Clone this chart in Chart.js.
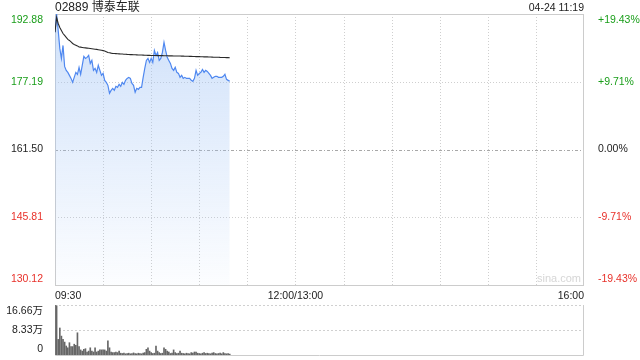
<!DOCTYPE html>
<html><head><meta charset="utf-8">
<script src="https://cdn.jsdelivr.net/npm/chart.js@4/dist/chart.umd.min.js"></script>
<style>
html,body{margin:0;padding:0;background:#fff;width:640px;height:360px;overflow:hidden;}
#wrap{position:relative;width:640px;height:360px;font-family:"Liberation Sans",Arial,"Noto Sans CJK SC",sans-serif;}
canvas{position:absolute;left:0;}
#title{position:absolute;left:55px;top:0;font-size:12px;color:#222;line-height:14px;white-space:nowrap;}
#time{position:absolute;right:56px;top:0;font-size:10.5px;color:#222;line-height:14px;white-space:nowrap;}
#wm{position:absolute;right:59px;top:271px;font-size:11px;color:#d6d6d6;line-height:14px;}
</style></head>
<body><div id="wrap">
<canvas id="main" width="640" height="302" style="top:0"></canvas>
<canvas id="vol" width="640" height="60" style="top:300px"></canvas>
<div id="title">02889 博泰车联</div>
<div id="time">04-24 11:19</div>
<div id="wm">sina.com</div>
</div>
<script>
// ---- data ----
const stockName = '02889 博泰车联';
const timeTickValues = [0, 150, 330];
const timeTicks = ['09:30', '12:00/13:00', '16:00'];
const priceTicks = [130.12, 145.81, 161.50, 177.19, 192.88];
const priceTickLabels = ['130.12', '145.81', '161.50', '177.19', '192.88'];
const pctTicks = ['-19.43%', '-9.71%', '0.00%', '+9.71%', '+19.43%'];
const volTickValues = [0, 8.33, 16.66];
const volTicks = ['0', '8.33万', '16.66万'];

const price = [188.67,192.88,189.07,184.91,182.60,185.60,180.75,179.82,179.36,178.67,
177.97,177.05,178.21,179.36,178.90,180.52,178.90,180.98,183.06,182.60,
182.83,183.29,181.44,182.13,179.82,180.29,179.36,180.98,179.82,178.67,
179.13,177.51,177.05,176.36,174.51,175.20,175.66,175.20,176.13,175.89,
176.59,176.13,177.05,176.59,177.51,177.97,178.21,177.97,176.82,176.36,
174.74,175.66,175.43,175.89,175.89,178.21,180.29,182.13,182.60,181.67,
182.60,181.67,184.44,183.29,183.98,182.13,182.60,183.98,186.29,184.44,
182.83,182.13,181.44,180.29,179.82,180.52,179.36,179.13,178.21,178.67,
177.97,178.21,177.97,177.97,177.97,177.51,177.28,177.97,179.82,178.67,
179.13,179.36,180.05,179.36,179.82,179.59,179.13,178.67,177.97,178.21,
178.44,178.44,178.21,178.21,178.21,178.44,178.90,177.74,177.51,177.28];

const avgPrice = [188.67,192.07,190.68,189.76,189.07,188.37,187.91,187.45,186.99,186.76,
186.41,186.06,185.83,185.66,185.49,185.25,185.20,185.14,185.08,185.03,
184.98,184.93,184.88,184.83,184.78,184.73,184.68,184.61,184.54,184.47,
184.40,184.33,184.15,183.98,183.90,183.82,183.75,183.72,183.70,183.67,
183.65,183.62,183.60,183.57,183.55,183.52,183.50,183.48,183.47,183.45,
183.43,183.42,183.40,183.38,183.37,183.35,183.33,183.32,183.30,183.29,
183.28,183.27,183.27,183.26,183.25,183.24,183.23,183.23,183.22,183.21,
183.20,183.19,183.19,183.18,183.17,183.16,183.15,183.15,183.14,183.13,
183.13,183.11,183.10,183.09,183.07,183.06,183.05,183.04,183.02,183.01,
183.00,182.99,182.97,182.96,182.95,182.94,182.92,182.91,182.90,182.88,
182.87,182.86,182.85,182.83,182.82,182.81,182.80,182.78,182.77,182.76];

// volume in 万 shares
const volume = [16.6,16.4,5.2,9.0,6.3,5.2,4.3,3.0,2.4,4.1,
2.8,2.8,3.6,3.2,7.4,2.8,1.7,1.3,1.9,2.1,
1.0,1.3,2.4,1.3,1.0,2.4,1.0,1.3,1.7,1.7,
1.7,1.7,1.3,4.7,2.4,1.0,0.8,0.8,1.0,0.8,
1.3,0.6,0.5,0.6,0.4,0.5,0.6,0.4,0.5,0.7,
0.5,0.4,0.6,0.5,0.4,0.6,0.8,1.9,2.4,1.3,
0.8,0.5,0.6,3.0,1.3,0.8,0.5,0.6,2.4,1.9,
1.3,1.0,0.5,0.6,1.7,0.8,0.5,0.6,1.3,0.6,
0.5,0.4,0.6,0.5,0.4,0.8,0.6,1.0,1.0,0.6,
0.5,0.4,0.6,0.8,0.5,0.6,0.5,0.4,0.6,0.8,
0.5,0.4,0.5,0.6,0.4,0.8,0.5,0.4,0.5,0.3];

// ---- style ----
const GREEN = '#1a9e1a', RED = '#e8312a', DARK = '#222';
const priceColors = [RED, RED, DARK, GREEN, GREEN];
const FONT = '"Liberation Sans", Arial, "Noto Sans CJK SC", sans-serif';
Chart.defaults.font.family = FONT;
Chart.defaults.font.size = 10.5;

function edgeLabel(lbl, i, n) {
  if (i === n - 1) return ['', lbl];
  if (i === 0) return [lbl, ''];
  return lbl;
}
function noPad(ax) { ax.paddingTop = 0; ax.paddingBottom = 0; ax.paddingLeft = 0; ax.paddingRight = 0; }
function hline(ctx, x1, x2, y) { ctx.beginPath(); ctx.moveTo(x1, y); ctx.lineTo(x2, y); ctx.stroke(); }
function vline(ctx, x, y1, y2) { ctx.beginPath(); ctx.moveTo(x, y1); ctx.lineTo(x, y2); ctx.stroke(); }

const mainGrid = {
  id: 'mainGrid',
  beforeDatasetsDraw(chart) {
    const {ctx, chartArea: a, scales} = chart;
    ctx.save();
    ctx.lineWidth = 1;
    ctx.strokeStyle = '#cfcfcf';
    ctx.setLineDash([1, 2]);
    for (let m = 30; m < 330; m += 30) {
      const x = Math.round(scales.x.getPixelForValue(m)) + 0.5;
      vline(ctx, x, a.top, a.bottom);
    }
    [priceTicks[1], priceTicks[3]].forEach(v => {
      const y = Math.round(scales.y.getPixelForValue(v)) + 0.5;
      hline(ctx, a.left, a.right, y);
    });
    ctx.strokeStyle = '#a8a8a8';
    ctx.setLineDash([3, 2, 1, 2]);
    hline(ctx, a.left, a.right, Math.round(scales.y.getPixelForValue(priceTicks[2])) + 0.5);
    ctx.setLineDash([]);
    ctx.strokeStyle = '#cccccc';
    ctx.strokeRect(Math.round(a.left) + 0.5, Math.round(a.top) + 0.5, Math.round(a.right - a.left) - 1, Math.round(a.bottom - a.top));
    ctx.restore();
  }
};

const volGrid = {
  id: 'volGrid',
  beforeDatasetsDraw(chart) {
    const {ctx, chartArea: a, scales} = chart;
    ctx.save();
    ctx.lineWidth = 1;
    ctx.strokeStyle = '#d0d0d0';
    ctx.setLineDash([2, 2]);
    [volTickValues[1], volTickValues[2]].forEach(v => {
      const y = Math.round(scales.y.getPixelForValue(v)) + 0.5;
      hline(ctx, a.left, a.right, y);
    });
    ctx.setLineDash([]);
    ctx.strokeStyle = '#cccccc';
    const l = Math.round(a.left) + 0.5, r = Math.round(a.right) - 0.5, b = Math.round(a.bottom) + 0.5, t = Math.round(a.top);
    vline(ctx, l, t, b); vline(ctx, r, t, b); hline(ctx, l, r, b);
    ctx.restore();
  }
};

const minuteIdx = price.map((_, i) => i);

new Chart(document.getElementById('main'), {
  type: 'line',
  data: {
    datasets: [
      {
        data: minuteIdx.map(i => ({x: i, y: avgPrice[i]})),
        borderColor: '#2a2a2a', borderWidth: 1.1, pointRadius: 0, fill: false, tension: 0
      },
      {
        data: minuteIdx.map(i => ({x: i, y: price[i]})),
        borderColor: '#4f88f0', borderWidth: 1.2, pointRadius: 0, tension: 0,
        fill: 'start',
        backgroundColor: (c) => {
          const ch = c.chart; const a = ch.chartArea;
          if (!a) return 'rgba(160,195,245,0.3)';
          const g = ch.ctx.createLinearGradient(0, a.top, 0, a.bottom);
          g.addColorStop(0, 'rgba(160,195,245,0.5)');
          g.addColorStop(1, 'rgba(160,195,245,0.03)');
          return g;
        }
      }
    ]
  },
  options: {
    responsive: false, animation: false, devicePixelRatio: 1,
    layout: {padding: {top: 14, left: 0, right: 0, bottom: 0}},
    plugins: {legend: {display: false}, tooltip: {enabled: false}},
    scales: {
      x: {
        type: 'linear', min: 0, max: 330, position: 'bottom',
        grid: {display: false}, border: {display: false},
        afterBuildTicks: ax => { ax.ticks = timeTickValues.map(v => ({value: v})); },
        afterFit: ax => { ax.height = 17; noPad(ax); },
        ticks: {autoSkip: false, maxRotation: 0, align: 'inner', padding: -3, color: DARK,
                callback: (v, i) => timeTicks[i]}
      },
      y: {
        position: 'left', min: priceTicks[0], max: priceTicks[4],
        grid: {display: false}, border: {display: false},
        afterBuildTicks: ax => { ax.ticks = priceTicks.map(v => ({value: v})); },
        afterFit: ax => { ax.width = 55; noPad(ax); },
        ticks: {autoSkip: false, padding: 4, color: c => priceColors[c.index],
                callback: (v, i) => edgeLabel(priceTickLabels[i], i, priceTicks.length)}
      },
      y2: {
        position: 'right', min: priceTicks[0], max: priceTicks[4],
        grid: {display: false}, border: {display: false},
        afterBuildTicks: ax => { ax.ticks = priceTicks.map(v => ({value: v})); },
        afterFit: ax => { ax.width = 56; noPad(ax); },
        ticks: {autoSkip: false, padding: 6, color: c => priceColors[c.index],
                callback: (v, i) => edgeLabel(pctTicks[i], i, pctTicks.length)}
      }
    }
  },
  plugins: [mainGrid]
});

new Chart(document.getElementById('vol'), {
  type: 'bar',
  data: {
    datasets: [{
      data: minuteIdx.map(i => ({x: i, y: volume[i]})),
      backgroundColor: '#666666', borderWidth: 0, barThickness: 1
    }]
  },
  options: {
    responsive: false, animation: false, devicePixelRatio: 1,
    layout: {padding: {top: 5, bottom: 5, left: 0, right: 56}},
    plugins: {legend: {display: false}, tooltip: {enabled: false}},
    scales: {
      x: {type: 'linear', min: 0, max: 330, display: false, offset: false, grid: {offset: false}},
      y: {
        position: 'left', min: 0, max: volTickValues[2],
        grid: {display: false}, border: {display: false},
        afterBuildTicks: ax => { ax.ticks = volTickValues.map(v => ({value: v})); },
        afterFit: ax => { ax.width = 55; noPad(ax); },
        ticks: {autoSkip: false, padding: 4, color: DARK,
                callback: (v, i) => edgeLabel(volTicks[i], i, volTicks.length)}
      }
    }
  },
  plugins: [volGrid]
});
</script>
</body></html>
